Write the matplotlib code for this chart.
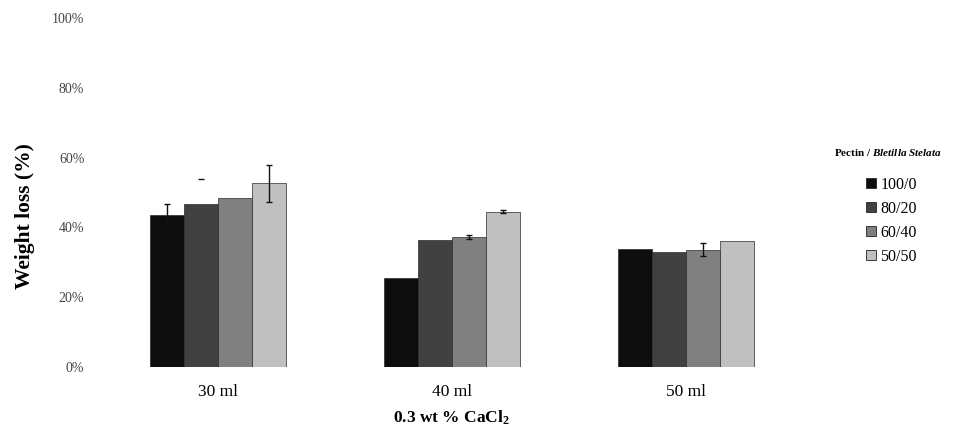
import matplotlib
matplotlib.use("Agg")
import matplotlib.pyplot as plt
import numpy as np
from matplotlib.patches import Patch

plt.rcParams['font.family'] = ['Liberation Serif', 'DejaVu Serif']
plt.rcParams['mathtext.fontset'] = 'custom'
plt.rcParams['mathtext.rm'] = 'Liberation Serif:bold'
plt.rcParams['mathtext.it'] = 'Liberation Serif:italic:bold'
plt.rcParams['mathtext.bf'] = 'Liberation Serif:bold'

categories = ["30 ml", "40 ml", "50 ml"]
series_names = ["100/0", "80/20", "60/40", "50/50"]
values = {
    "100/0": [43.6, 25.6, 33.8],
    "80/20": [46.7, 36.3, 33.0],
    "60/40": [48.3, 37.2, 33.6],
    "50/50": [52.6, 44.5, 36.2],
}
errors = {
    "100/0": [3.0, 0.0, 0.0],
    "80/20": [0.0, 0.0, 0.0],
    "60/40": [0.0, 0.6, 1.8],
    "50/50": [5.3, 0.5, 0.0],
}
yticks = [0, 20, 40, 60, 80, 100]
ytick_labels = ["0%", "20%", "40%", "60%", "80%", "100%"]
colors = ["#0d0d0d", "#414141", "#808080", "#c0c0c0"]

fig = plt.figure(figsize=(9.79, 4.29), dpi=100)
ax = fig.add_axes([101/979, 62/429, 702/979, 349/429])

x = np.arange(len(categories))
w = 0.145
for i, name in enumerate(series_names):
    pos = x + (i - 1.5) * w
    ax.bar(pos, values[name], width=w, color=colors[i], edgecolor="#2a2a2a",
           linewidth=0.5, zorder=2)
    for j in range(len(categories)):
        e = errors[name][j]
        if e > 0:
            ax.errorbar(pos[j], values[name][j], yerr=e, fmt="none",
                        ecolor="#111111", elinewidth=1.0, capsize=2, capthick=1.0, zorder=3)

# isolated cap marker above 80/20 bar at 30 ml
ax.plot([x[0] - 0.5 * w], [53.9], marker="_", color="#111111", markersize=4, mew=1.0, zorder=3)

ax.set_xlim(-0.5, 2.5)
ax.set_ylim(0, 100)
ax.set_yticks(yticks)
ax.set_yticklabels(ytick_labels, color="#444444", fontsize=10)
ax.set_xticks(x)
ax.set_xticklabels(categories, fontsize=12.5)
ax.tick_params(axis="y", length=0, pad=12)
ax.tick_params(axis="x", length=0, pad=12)
for s in ax.spines.values():
    s.set_visible(False)

fig.text(451/979, 1 - 418/429, r"0.3 wt % CaCl$_\mathbf{2}$", ha="center", va="center",
         fontsize=12.5, fontweight="bold")
fig.text(25/979, 1 - 216/429, "Weight loss (%)", rotation=90, ha="center", va="center",
         fontsize=15.5, fontweight="bold")

handles = [Patch(facecolor=colors[i], edgecolor="#222222", linewidth=0.6, label=n)
           for i, n in enumerate(series_names)]
leg = fig.legend(handles=handles, loc="upper left", bbox_to_anchor=(866/979, 1 - 177/429),
                 frameon=False, fontsize=11.5, handlelength=0.6, handleheight=0.6,
                 handletextpad=0.3, labelspacing=0.5, borderaxespad=0, borderpad=0)
fig.text(888/979, 1 - 153/429, r"Pectin / $Bletilla\ Stelata$", ha="center", va="center",
         fontsize=8, fontweight="bold")

fig.savefig("out.png", dpi=100)
